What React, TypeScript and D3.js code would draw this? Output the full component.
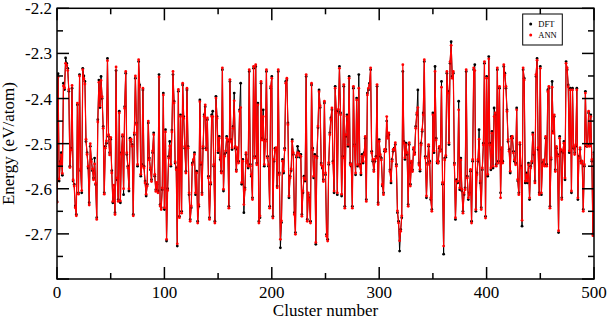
import * as d3 from "d3";

const dft = [
  -2.628,-2.345,-2.583,-2.540,-2.520,-2.570,-2.366,-2.380,-2.310,-2.322,
  -2.333,-2.384,-2.550,-2.510,-2.377,-2.583,-2.590,-2.638,-2.657,-2.414,
  -2.609,-2.347,-2.560,-2.609,-2.333,-2.350,-2.362,-2.495,-2.520,-2.554,
  -2.631,-2.506,-2.535,-2.560,-2.576,-2.532,-2.591,-2.664,-2.447,-2.359,
  -2.420,-2.351,-2.400,-2.462,-2.609,-2.506,-2.499,-2.311,-2.484,-2.520,
  -2.490,-2.560,-2.631,-2.605,-2.653,-2.338,-2.580,-2.624,-2.428,-2.631,
  -2.520,-2.484,-2.613,-2.418,-2.344,-2.524,-2.550,-2.605,-2.488,-2.495,
  -2.502,-2.657,-2.480,-2.355,-2.454,-2.550,-2.318,-2.370,-2.572,-2.546,
  -2.381,-2.550,-2.583,-2.616,-2.590,-2.454,-2.532,-2.558,-2.580,-2.520,
  -2.476,-2.572,-2.602,-2.590,-2.605,-2.347,-2.635,-2.642,-2.602,-2.388,
  -2.646,-2.469,-2.716,-2.600,-2.528,-2.495,-2.550,-2.470,-2.347,-2.406,
  -2.543,-2.554,-2.727,-2.384,-2.661,-2.436,-2.650,-2.370,-2.440,-2.510,
  -2.561,-2.381,-2.506,-2.613,-2.668,-2.642,-2.543,-2.539,-2.520,-2.613,
  -2.561,-2.672,-2.639,-2.403,-2.546,-2.609,-2.510,-2.436,-2.418,-2.510,
  -2.447,-2.572,-2.664,-2.590,-2.436,-2.428,-2.550,-2.672,-2.395,-2.440,
  -2.520,-2.484,-2.535,-2.561,-2.336,-2.605,-2.524,-2.520,-2.484,-2.495,
  -2.639,-2.362,-2.491,-2.513,-2.462,-2.388,-2.510,-2.558,-2.513,-2.539,
  -2.425,-2.366,-2.590,-2.535,-2.653,-2.598,-2.524,-2.539,-2.554,-2.340,
  -2.546,-2.572,-2.620,-2.333,-2.528,-2.329,-2.543,-2.410,-2.672,-2.664,
  -2.366,-2.488,-2.425,-2.550,-2.491,-2.340,-2.528,-2.550,-2.639,-2.377,
  -2.351,-2.661,-2.539,-2.510,-2.513,-2.594,-2.340,-2.565,-2.731,-2.675,
  -2.535,-2.565,-2.510,-2.362,-2.359,-2.454,-2.620,-2.572,-2.560,-2.491,
  -2.524,-2.653,-2.697,-2.530,-2.506,-2.517,-2.530,-2.524,-2.657,-2.609,
  -2.572,-2.583,-2.351,-2.668,-2.613,-2.620,-2.672,-2.370,-2.510,-2.576,
  -2.524,-2.723,-2.528,-2.465,-2.381,-2.420,-2.543,-2.554,-2.580,-2.410,
  -2.569,-2.701,-2.712,-2.546,-2.476,-2.443,-2.425,-2.539,-2.609,-2.373,
  -2.428,-2.613,-2.428,-2.329,-2.432,-2.616,-2.528,-2.373,-2.639,-2.484,
  -2.436,-2.506,-2.351,-2.543,-2.550,-2.639,-2.377,-2.502,-2.569,-2.399,
  -2.550,-2.347,-2.546,-2.569,-2.524,-2.543,-2.520,-2.488,-2.624,-2.388,
  -2.381,-2.366,-2.336,-2.517,-2.539,-2.558,-2.539,-2.528,-2.373,-2.631,
  -2.491,-2.528,-2.532,-2.594,-2.609,-2.517,-2.513,-2.450,-2.484,-2.480,
  -2.558,-2.587,-2.535,-2.517,-2.510,-2.502,-2.546,-2.653,-2.672,-2.738,
  -2.690,-2.664,-2.340,-2.495,-2.535,-2.499,-2.524,-2.635,-2.502,-2.590,
  -2.543,-2.558,-2.513,-2.520,-2.462,-2.436,-2.381,-2.543,-2.561,-2.499,
  -2.473,-2.432,-2.318,-2.528,-2.620,-2.543,-2.506,-2.539,-2.624,-2.646,
  -2.432,-2.520,-2.329,-2.488,-2.543,-2.539,-2.510,-2.513,-2.362,-2.590,
  -2.745,-2.532,-2.530,-2.344,-2.384,-2.502,-2.322,-2.274,-2.351,-2.344,
  -2.543,-2.668,-2.580,-2.587,-2.406,-2.602,-2.532,-2.605,-2.650,-2.613,
  -2.598,-2.340,-2.572,-2.624,-2.609,-2.561,-2.672,-2.539,-2.336,-2.325,
  -2.650,-2.565,-2.539,-2.469,-2.587,-2.642,-2.558,-2.499,-2.322,-2.661,
  -2.351,-2.572,-2.307,-2.499,-2.558,-2.473,-2.554,-2.421,-2.436,-2.546,
  -2.336,-2.539,-2.377,-2.609,-2.513,-2.539,-2.329,-2.344,-2.377,-2.425,
  -2.495,-2.513,-2.565,-2.484,-2.488,-2.517,-2.539,-2.543,-2.421,-2.583,
  -2.609,-2.502,-2.550,-2.683,-2.336,-2.355,-2.587,-2.565,-2.587,-2.543,
  -2.624,-2.550,-2.543,-2.476,-2.524,-2.583,-2.351,-2.311,-2.513,-2.609,
  -2.329,-2.613,-2.543,-2.540,-2.546,-2.488,-2.546,-2.381,-2.377,-2.639,
  -2.535,-2.362,-2.473,-2.440,-2.558,-2.510,-2.524,-2.697,-2.484,-2.517,
  -2.620,-2.520,-2.495,-2.580,-2.318,-2.336,-2.370,-2.520,-2.377,-2.609,
  -2.377,-2.510,-2.520,-2.506,-2.377,-2.624,-2.528,-2.513,-2.539,-2.543,
  -2.646,-2.550,-2.384,-2.506,-2.502,-2.432,-2.502,-2.436,-2.539,-2.700,
  -2.520,
];

const ann = [
  -2.630,-2.352,-2.578,-2.545,-2.525,-2.566,-2.372,-2.376,-2.322,-2.326,
  -2.338,-2.380,-2.553,-2.514,-2.371,-2.580,-2.594,-2.642,-2.660,-2.410,
  -2.612,-2.350,-2.556,-2.604,-2.336,-2.356,-2.368,-2.490,-2.524,-2.550,
  -2.636,-2.500,-2.540,-2.556,-2.580,-2.545,-2.588,-2.668,-2.452,-2.364,
  -2.416,-2.360,-2.396,-2.466,-2.612,-2.510,-2.494,-2.316,-2.480,-2.525,
  -2.486,-2.565,-2.628,-2.592,-2.657,-2.330,-2.576,-2.628,-2.432,-2.627,
  -2.524,-2.480,-2.600,-2.422,-2.340,-2.520,-2.554,-2.600,-2.492,-2.490,
  -2.506,-2.660,-2.476,-2.350,-2.458,-2.546,-2.314,-2.374,-2.568,-2.550,
  -2.377,-2.554,-2.587,-2.612,-2.594,-2.450,-2.536,-2.554,-2.584,-2.516,
  -2.480,-2.568,-2.606,-2.586,-2.609,-2.352,-2.638,-2.646,-2.598,-2.392,
  -2.642,-2.474,-2.712,-2.604,-2.532,-2.505,-2.546,-2.474,-2.340,-2.410,
  -2.540,-2.558,-2.722,-2.380,-2.664,-2.440,-2.654,-2.366,-2.444,-2.506,
  -2.565,-2.377,-2.510,-2.609,-2.672,-2.638,-2.547,-2.535,-2.524,-2.609,
  -2.565,-2.676,-2.635,-2.407,-2.542,-2.613,-2.506,-2.440,-2.414,-2.514,
  -2.443,-2.576,-2.668,-2.586,-2.440,-2.440,-2.546,-2.676,-2.399,-2.444,
  -2.516,-2.488,-2.531,-2.565,-2.332,-2.601,-2.528,-2.516,-2.488,-2.491,
  -2.643,-2.358,-2.495,-2.509,-2.466,-2.405,-2.506,-2.562,-2.509,-2.543,
  -2.429,-2.420,-2.586,-2.539,-2.635,-2.602,-2.520,-2.543,-2.550,-2.336,
  -2.550,-2.568,-2.624,-2.329,-2.532,-2.325,-2.547,-2.414,-2.676,-2.660,
  -2.362,-2.492,-2.440,-2.546,-2.495,-2.336,-2.532,-2.546,-2.643,-2.373,
  -2.355,-2.665,-2.535,-2.514,-2.509,-2.598,-2.336,-2.569,-2.712,-2.671,
  -2.539,-2.561,-2.514,-2.366,-2.355,-2.458,-2.616,-2.576,-2.556,-2.495,
  -2.520,-2.657,-2.701,-2.526,-2.520,-2.521,-2.526,-2.528,-2.661,-2.605,
  -2.576,-2.579,-2.347,-2.672,-2.609,-2.624,-2.676,-2.366,-2.514,-2.572,
  -2.528,-2.719,-2.532,-2.461,-2.385,-2.416,-2.547,-2.550,-2.584,-2.406,
  -2.565,-2.705,-2.716,-2.542,-2.480,-2.447,-2.421,-2.543,-2.605,-2.377,
  -2.432,-2.609,-2.424,-2.333,-2.436,-2.612,-2.532,-2.369,-2.643,-2.480,
  -2.440,-2.502,-2.355,-2.547,-2.546,-2.643,-2.373,-2.506,-2.565,-2.403,
  -2.546,-2.377,-2.550,-2.565,-2.528,-2.539,-2.524,-2.484,-2.628,-2.392,
  -2.377,-2.370,-2.332,-2.521,-2.535,-2.562,-2.535,-2.532,-2.369,-2.635,
  -2.495,-2.524,-2.536,-2.590,-2.613,-2.513,-2.517,-2.440,-2.488,-2.476,
  -2.562,-2.583,-2.539,-2.513,-2.514,-2.498,-2.550,-2.649,-2.676,-2.715,
  -2.694,-2.660,-2.325,-2.499,-2.531,-2.503,-2.520,-2.639,-2.498,-2.594,
  -2.539,-2.562,-2.509,-2.524,-2.466,-2.432,-2.420,-2.547,-2.557,-2.503,
  -2.469,-2.436,-2.314,-2.532,-2.616,-2.547,-2.502,-2.543,-2.620,-2.650,
  -2.436,-2.516,-2.340,-2.492,-2.539,-2.543,-2.506,-2.517,-2.375,-2.586,
  -2.727,-2.536,-2.526,-2.340,-2.388,-2.498,-2.318,-2.282,-2.355,-2.340,
  -2.547,-2.664,-2.584,-2.583,-2.425,-2.598,-2.536,-2.601,-2.654,-2.609,
  -2.602,-2.336,-2.576,-2.620,-2.613,-2.557,-2.676,-2.535,-2.332,-2.338,
  -2.646,-2.569,-2.535,-2.490,-2.583,-2.646,-2.554,-2.503,-2.318,-2.665,
  -2.355,-2.568,-2.312,-2.503,-2.554,-2.477,-2.550,-2.440,-2.432,-2.550,
  -2.332,-2.543,-2.373,-2.620,-2.509,-2.543,-2.325,-2.348,-2.373,-2.429,
  -2.491,-2.517,-2.561,-2.488,-2.484,-2.521,-2.535,-2.547,-2.425,-2.579,
  -2.613,-2.498,-2.554,-2.670,-2.332,-2.359,-2.583,-2.569,-2.583,-2.547,
  -2.620,-2.554,-2.539,-2.480,-2.520,-2.587,-2.347,-2.315,-2.509,-2.613,
  -2.333,-2.609,-2.547,-2.536,-2.550,-2.484,-2.550,-2.385,-2.373,-2.643,
  -2.531,-2.375,-2.477,-2.436,-2.562,-2.506,-2.528,-2.693,-2.488,-2.513,
  -2.624,-2.516,-2.499,-2.576,-2.322,-2.332,-2.374,-2.516,-2.381,-2.605,
  -2.381,-2.506,-2.524,-2.502,-2.381,-2.620,-2.532,-2.509,-2.543,-2.539,
  -2.650,-2.546,-2.388,-2.502,-2.506,-2.428,-2.506,-2.440,-2.535,-2.704,
  -2.524,
];

const xMajor = [0, 100, 200, 300, 400, 500];
const xMinor = [50, 150, 250, 350, 450];
const yMajor = [-2.2, -2.3, -2.4, -2.5, -2.6, -2.7, -2.8];
const yMinor = [-2.25, -2.35, -2.45, -2.55, -2.65, -2.75];
const yLabels = ["-2.2", "-2.3", "-2.4", "-2.5", "-2.6", "-2.7", ""];

const W = 609;
const H = 319;
const L = 57, R = 594, T = 8.3, B = 279;
const font = '"Liberation Serif", "DejaVu Serif", serif';

export default function App() {
  const x = d3.scaleLinear().domain([0, 500]).range([L, R]);
  const y = d3.scaleLinear().domain([-2.8, -2.2]).range([B, T]);

  const line = d3
    .line<number>()
    .x((_, i) => x(i))
    .y((d) => y(d));

  const maj = 12;
  const min = 6;

  return (
    <svg
      width={W}
      height={H}
      style={{ position: "absolute", left: 0, top: 0, background: "#fff" }}
    >
      <defs>
        <clipPath id="plot">
          <rect x={L} y={T} width={R - L} height={B - T} />
        </clipPath>
      </defs>

      <g clipPath="url(#plot)">
        <path d={line(dft) ?? ""} fill="none" stroke="#000" strokeWidth={1} />
        {dft.map((d, i) => (
          <circle key={"d" + i} cx={x(i)} cy={y(d)} r={1.4} fill="#000" />
        ))}
        <path d={line(ann) ?? ""} fill="none" stroke="#ff0000" strokeWidth={1.2} />
        {ann.map((d, i) => (
          <circle key={"a" + i} cx={x(i)} cy={y(d)} r={1.4} fill="#ff0000" />
        ))}
      </g>

      {/* frame */}
      <rect x={L} y={T} width={R - L} height={B - T} fill="none" stroke="#000" strokeWidth={1.5} />

      {/* ticks, inward on every side */}
      <g stroke="#000" strokeWidth={1.5}>
        {xMajor.map((t) => (
          <g key={"xm" + t}>
            <line x1={x(t)} x2={x(t)} y1={B} y2={B - maj} />
            <line x1={x(t)} x2={x(t)} y1={T} y2={T + maj} />
          </g>
        ))}
        {xMinor.map((t) => (
          <g key={"xn" + t}>
            <line x1={x(t)} x2={x(t)} y1={B} y2={B - min} />
            <line x1={x(t)} x2={x(t)} y1={T} y2={T + min} />
          </g>
        ))}
        {yMajor.map((t) => (
          <g key={"ym" + t}>
            <line x1={L} x2={L + maj} y1={y(t)} y2={y(t)} />
            <line x1={R} x2={R - maj} y1={y(t)} y2={y(t)} />
          </g>
        ))}
        {yMinor.map((t) => (
          <g key={"yn" + t}>
            <line x1={L} x2={L + min} y1={y(t)} y2={y(t)} />
            <line x1={R} x2={R - min} y1={y(t)} y2={y(t)} />
          </g>
        ))}
      </g>

      {/* tick labels */}
      <g style={{ fontFamily: font, fontSize: 17 }} fill="#000">
        {xMajor.map((t) => (
          <text key={"xl" + t} x={x(t)} y={298} textAnchor="middle">
            {t}
          </text>
        ))}
        {yMajor.map((t, i) => (
          <text key={"yl" + t} x={52} y={y(t) + 6} textAnchor="end">
            {yLabels[i]}
          </text>
        ))}
        <text x={(L + R) / 2} y={316} textAnchor="middle">
          Cluster number
        </text>
        <text
          transform={`translate(14, ${(T + B) / 2}) rotate(-90)`}
          textAnchor="middle"
        >
          Energy (eV/atom)
        </text>
      </g>

      {/* legend */}
      <g style={{ fontFamily: font, fontSize: 8.5 }}>
        <rect x={522.7} y={14} width={39.6} height={31} fill="#fff" stroke="#000" strokeWidth={1} />
        <circle cx={530.7} cy={24} r={1.5} fill="#000" />
        <text x={538.3} y={27}>DFT</text>
        <circle cx={530.7} cy={35} r={1.5} fill="#ff0000" />
        <text x={538.3} y={38}>ANN</text>
      </g>
    </svg>
  );
}
